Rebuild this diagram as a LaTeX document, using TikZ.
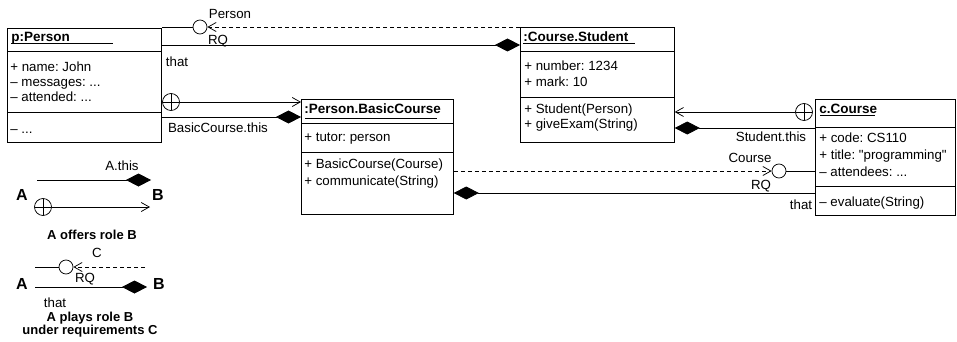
\documentclass[tikz,border=0pt]{standalone}
\usepackage{fontspec}
\setmainfont{Liberation Sans}
\newfontfamily\plainqf{Liberation Sans}
\usetikzlibrary{arrows.meta,calc}
\frenchspacing
\begin{document}
\begin{tikzpicture}[x=1pt,y=-1pt,
  line width=0.75pt,
  box/.style={draw, rectangle, inner sep=0pt, anchor=north west},
  ttl/.style={anchor=west, inner sep=0pt, text height=9.7pt, text depth=0pt, font=\fontsize{13.5}{15}\selectfont\bfseries},
  attr/.style={anchor=west, inner sep=0pt, text height=9.5pt, text depth=0pt, font=\fontsize{13.3}{15}\selectfont},
  lbl/.style={inner sep=0pt, text height=9.5pt, text depth=0pt, font=\fontsize{13.3}{15}\selectfont},
  big/.style={inner sep=0pt, font=\fontsize{16}{18}\selectfont\bfseries},
  legcap/.style={inner sep=0pt, align=center, font=\fontsize{13}{12}\selectfont\bfseries},
  rqc/.style={circle, draw, fill=white, minimum size=14pt, inner sep=0pt},
  cplus/.style={circle, draw, fill=white, minimum size=17pt, inner sep=0pt,
    path picture={\draw (path picture bounding box.north) -- (path picture bounding box.south)
                        (path picture bounding box.west) -- (path picture bounding box.east);}},
  dia/.style={-{Diamond[length=25pt,width=13pt]}},
  barb/.style={-{Straight Barb[length=8pt,width=9pt]}},
  dsh/.style={dash pattern=on 4pt off 3pt},
]
\useasboundingbox (0,0) rectangle (957,342);

% ---------- boxes ----------
\node[box, minimum width=154pt, minimum height=114pt] (person) at (7,28) {};
\node[box, minimum width=154pt, minimum height=115pt] (cs) at (520,27) {};
\node[box, minimum width=152pt, minimum height=115pt] (bc) at (301,99) {};
\node[box, minimum width=140pt, minimum height=116pt] (cc) at (815,99) {};

% compartments
\draw ($(person.north west)+(0,23)$) -- ($(person.north east)+(0,23)$);
\draw ($(person.north west)+(0,84)$) -- ($(person.north east)+(0,84)$);
\draw ($(cs.north west)+(0,24)$) -- ($(cs.north east)+(0,24)$);
\draw ($(cs.north west)+(0,70)$) -- ($(cs.north east)+(0,70)$);
\draw ($(bc.north west)+(0,24)$) -- ($(bc.north east)+(0,24)$);
\draw ($(bc.north west)+(0,53)$) -- ($(bc.north east)+(0,53)$);
\draw ($(cc.north west)+(0,28)$) -- ($(cc.north east)+(0,28)$);
\draw ($(cc.north west)+(0,87)$) -- ($(cc.north east)+(0,87)$);

% p:Person
\node[ttl] (pt) at (11,37) {p:Person};
\draw[line width=0.6pt] (11,43) -- (113,43);
\node[attr] (pa1) at (10,67) {+ name: John};
\node[attr] (pa2) at (10,82) {\textendash{} messages: ...};
\node[attr] (pa3) at (10,97) {\textendash{} attended: ...};
\node[attr] (pm1) at (10,129) {\textendash{} ...};

% :Course.Student
\node[ttl] (cst) at (523,37) {:Course.Student};
\draw[line width=0.6pt] (523,43) -- (635,43);
\node[attr] (csa1) at (524,66) {+ number: 1234};
\node[attr] (csa2) at (524,82) {+ mark: 10};
\node[attr] (csm1) at (524,109) {+ Student(Person)};
\node[attr] (csm2) at (524,124) {+ giveExam(String)};

% :Person.BasicCourse
\node[ttl] (bct) at (304,109) {:Person.BasicCourse};
\draw[line width=0.6pt] (305,118) -- (437,118);
\node[attr] (bca1) at (304,137) {+ tutor: person};
\node[attr] (bcm1) at (304,164) {+ BasicCourse(Course)};
\node[attr] (bcm2) at (304,181) {+ communicate(String)};

% c.Course
\node[ttl] (cct) at (819,109) {c.Course};
\draw[line width=0.6pt] (820,115) -- (875,115);
\node[attr] (cca1) at (819,138) {+ code: CS110};
\node[attr] (cca2) at (819,155) {\plainqf + title: "programming"};
\node[attr] (cca3) at (819,172) {\textendash{} attendees: ...};
\node[attr] (ccm1) at (819,202) {\textendash{} evaluate(String)};

% ---------- connectors ----------
\coordinate (y45) at (0,45);
\coordinate (y117) at (0,117);
\coordinate (y128) at (0,128);
\coordinate (y193) at (0,193);

% Person RQ
\node[rqc] (rq1) at (200,27) {};
\draw (person.east |- rq1) -- (rq1);
\draw[dsh, barb] (cs.west |- rq1) -- (rq1);
\node[lbl] (l1) at (230,14) {Person};
\node[lbl] (l2) at (218,40) {RQ};

% that (Person -> Course.Student)
\draw[dia] (person.east |- y45) -- (cs.west |- y45);
\node[lbl] (l3) at (177,62) {that};

% Person offers BasicCourse
\node[cplus] (cp1) at (171,102) {};
\draw[barb] (cp1) -- (bc.west |- cp1);
\draw[dia] (person.east |- y117) -- (bc.west |- y117);
\node[lbl] (l4) at (218,128) {BasicCourse.this};

% Course offers Student
\node[cplus] (cp2) at (804,112) {};
\draw[barb] (cp2) -- (cs.east |- cp2);
\draw[dia] (cc.west |- y128) -- (cs.east |- y128);
\node[lbl] (l5) at (771,137) {Student.this};

% Course RQ
\node[rqc] (rq2) at (779,171) {};
\draw (rq2) -- (cc.west |- rq2);
\draw[dsh, barb] (bc.east |- rq2) -- (rq2);
\node[lbl] (l6) at (750,158) {Course};
\node[lbl] (l7) at (761,185) {RQ};

% that (c.Course -> BasicCourse)
\draw[dia] (cc.west |- y193) -- (bc.east |- y193);
\node[lbl] (l8) at (801,205) {that};

% ---------- legend ----------
\node[lbl] (g1) at (122,166) {A.this};
\coordinate (g1s) at (37,180);
\coordinate (g1e) at (151,180);
\draw[dia] (g1s) -- (g1e);
\node[big] (gA1) at (22,195) {A};
\node[big] (gB1) at (158,195) {B};
\node[cplus] (cp3) at (43,207) {};
\coordinate (g2e) at (150,207);
\draw[barb] (cp3) -- (g2e);
\node[legcap] (gc1) at (92,235) {A offers role B};

\node[lbl] (g2) at (97,253) {C};
\node[rqc] (rq3) at (66,267) {};
\coordinate (g3s) at (35,267);
\coordinate (g3e) at (145,267);
\draw (g3s) -- (rq3);
\draw[dsh, barb] (g3e) -- (rq3);
\node[lbl] (g3) at (85,278) {RQ};
\node[big] (gA2) at (22,284) {A};
\node[big] (gB2) at (159,284) {B};
\coordinate (g4s) at (35,287);
\coordinate (g4e) at (147,287);
\draw[dia] (g4s) -- (g4e);
\node[lbl] (g4) at (55,303) {that};
\node[legcap] (gc2) at (90,325) {A plays role B\\under requirements C};
\end{tikzpicture}
\end{document}
